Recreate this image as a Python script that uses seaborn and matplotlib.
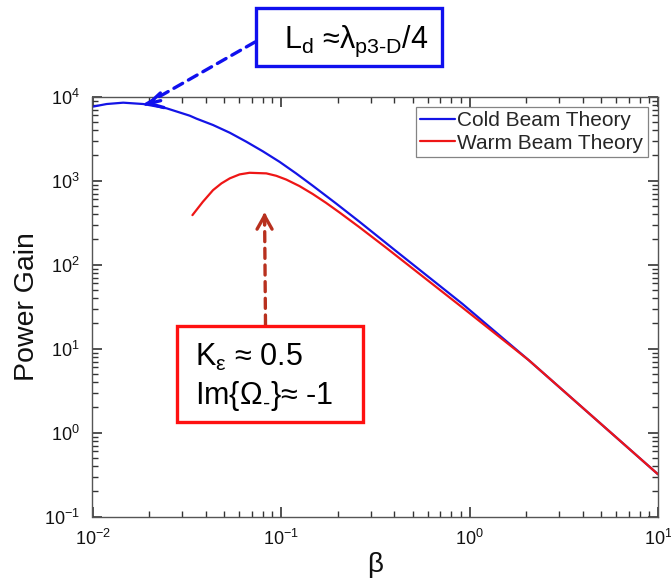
import numpy as np
import pandas as pd
import seaborn as sns
import matplotlib
matplotlib.use("Agg")
import matplotlib.pyplot as plt
from matplotlib.patches import Rectangle
from matplotlib.ticker import LogLocator, NullFormatter

# Power gain versus beta for the cold- and warm-beam models
beta_cold = [0.0100, 0.01189, 0.01455, 0.01858, 0.02472, 0.0328, 0.0356, 0.0436,
             0.0535, 0.0655, 0.0802, 0.0982, 0.1202, 0.1472, 0.1959, 0.260,
             0.407, 0.916, 2.065, 10.0]
gain_cold = [7621, 8204, 8511, 8204, 7295, 5957, 5495, 4613,
             3733, 2917, 2239, 1683, 1225, 875, 537, 327,
             146, 34.3, 7.29, 0.32]

beta_warm = [0.0339, 0.0385, 0.0436, 0.0483, 0.0535, 0.0603, 0.0681, 0.0836,
             0.0944, 0.1067, 0.1253, 0.1472, 0.1734, 0.2042, 0.260, 0.3606,
             0.916, 2.065, 10.0]
gain_warm = [390, 562, 774, 931, 1069, 1191, 1245, 1225,
             1146, 1033, 865, 697, 546, 420, 281, 160,
             31.0, 7.29, 0.32]

series_names = ["Cold Beam Theory", "Warm Beam Theory"]
series_colors = ["#1414e6", "#ee1616"]

x_limits = (1e-2, 1e1)
y_limits = (1e-1, 1e4)

df = pd.concat([
    pd.DataFrame({"beta": beta_cold, "gain": gain_cold, "model": series_names[0]}),
    pd.DataFrame({"beta": beta_warm, "gain": gain_warm, "model": series_names[1]}),
], ignore_index=True)

sns.set_theme(style="ticks")
plt.rcParams.update({
    "font.family": ["Liberation Sans", "DejaVu Sans"],
    "mathtext.fontset": "custom",
    "mathtext.rm": "Liberation Sans",
    "mathtext.it": "Liberation Sans:italic",
    "mathtext.default": "regular",
    "xtick.direction": "in", "ytick.direction": "in",
    "xtick.top": True, "xtick.bottom": True,
    "ytick.left": True, "ytick.right": True,
    "xtick.major.size": 7, "ytick.major.size": 7,
    "xtick.minor.size": 4, "ytick.minor.size": 4,
    "xtick.major.width": 1.2, "ytick.major.width": 1.2,
    "xtick.minor.width": 1.0, "ytick.minor.width": 1.0,
    "xtick.color": "#333333", "ytick.color": "#333333",
    "xtick.labelcolor": "#111111", "ytick.labelcolor": "#111111",
    "xtick.labelsize": 13, "ytick.labelsize": 13,
    "xtick.major.pad": 9, "ytick.major.pad": 9,
})

W, H = 671, 581
fig = plt.figure(figsize=(W / 100, H / 100), dpi=100)
ax = fig.add_axes([92.5 / W, 1 - 516.7 / H, (658 - 92.5) / W, (516.7 - 96.8) / H])

sns.lineplot(data=df, x="beta", y="gain", hue="model", hue_order=series_names,
             palette=dict(zip(series_names, series_colors)), linewidth=1.6,
             sort=False, estimator=None, ax=ax)

ax.set_xscale("log")
ax.set_yscale("log")
ax.set_xlim(*x_limits)
ax.set_ylim(*y_limits)

spine_color = "#555555"
for s in ax.spines.values():
    s.set_visible(True)
    s.set_color(spine_color)
    s.set_linewidth(1.0)
ax.xaxis.set_minor_locator(LogLocator(base=10, subs=np.arange(2, 10), numticks=20))
ax.yaxis.set_minor_locator(LogLocator(base=10, subs=np.arange(2, 10), numticks=20))
ax.xaxis.set_minor_formatter(NullFormatter())
ax.yaxis.set_minor_formatter(NullFormatter())

ax.set_xlabel("β", fontsize=20, color="#111111", labelpad=2)
ax.set_ylabel("Power Gain", fontsize=20.5, color="#111111", labelpad=3)

leg = ax.legend(loc="upper right", fontsize=15, frameon=True, fancybox=False,
                handlelength=1.7, handletextpad=0.1, borderpad=0.2,
                labelspacing=0.15, borderaxespad=0.5)
leg.get_frame().set_edgecolor("#666666")
leg.get_frame().set_linewidth(0.9)

ax.tick_params(which="both", direction="in", bottom=True, left=True, top=True, right=True,
               color="#333333")
ax.tick_params(which="major", length=7, width=1.2)
ax.tick_params(which="minor", length=4, width=1.0)


def fx(px):
    return px / W


def fy(py):
    return 1 - py / H


# Upper annotation: drift length note pointing at the cold-beam peak region
fig.patches.append(Rectangle((fx(256), fy(66)), (442 - 256) / W, (66 - 8) / H,
                             transform=fig.transFigure, fill=True, fc="white",
                             ec="#1010ee", lw=2.4, zorder=5))
fig.text(fx(284), fy(48), r"L$_\mathregular{d}$ ≈λ$_\mathregular{p3\text{-}D}$/4",
         fontsize=22, ha="left", va="baseline", color="black", zorder=6)
ax.annotate("", xy=(0.0192, 8150), xycoords="data",
            xytext=(fx(255), fy(42)), textcoords="figure fraction",
            arrowprops=dict(arrowstyle="-", color="#1010ee", lw=2.4,
                            linestyle=(0, (3, 2)), shrinkA=0, shrinkB=0),
            annotation_clip=False)
ax.annotate("", xy=(0.0192, 8150), xycoords="data",
            xytext=(0.023, 9000), textcoords="data",
            arrowprops=dict(arrowstyle="->,head_length=0.8,head_width=0.45",
                            color="#1010ee", lw=2.4, shrinkA=0, shrinkB=0),
            annotation_clip=False)

# Lower annotation: warm-beam parameters pointing at the warm-beam peak
fig.patches.append(Rectangle((fx(176.5), fy(421.5)), (362.5 - 176.5) / W, (421.5 - 325.5) / H,
                             transform=fig.transFigure, fill=True, fc="white",
                             ec="#ff1010", lw=2.4, zorder=5))
fig.text(fx(195), fy(366), r"K$_\mathregular{ε}$ ≈ 0.5", fontsize=22,
         ha="left", va="baseline", color="black", zorder=6)
fig.text(fx(195), fy(404), r"Im{Ω$_\mathregular{\text{-}}$}≈ -1", fontsize=22,
         ha="left", va="baseline", color="black", zorder=6)
arrow_red = "#b8301e"
ax.annotate("", xy=(0.0818, 420), xycoords="data",
            xytext=(fx(265.5), fy(325)), textcoords="figure fraction",
            arrowprops=dict(arrowstyle="-", color=arrow_red, lw=2.4,
                            linestyle=(0, (3, 2)), shrinkA=0, shrinkB=0),
            annotation_clip=False)
ax.annotate("", xy=(0.0818, 420), xycoords="data",
            xytext=(0.0818, 300), textcoords="data",
            arrowprops=dict(arrowstyle="->,head_length=0.8,head_width=0.45",
                            color=arrow_red, lw=2.4, shrinkA=0, shrinkB=0),
            annotation_clip=False)

fig.savefig("out.png", dpi=100, facecolor="white")
